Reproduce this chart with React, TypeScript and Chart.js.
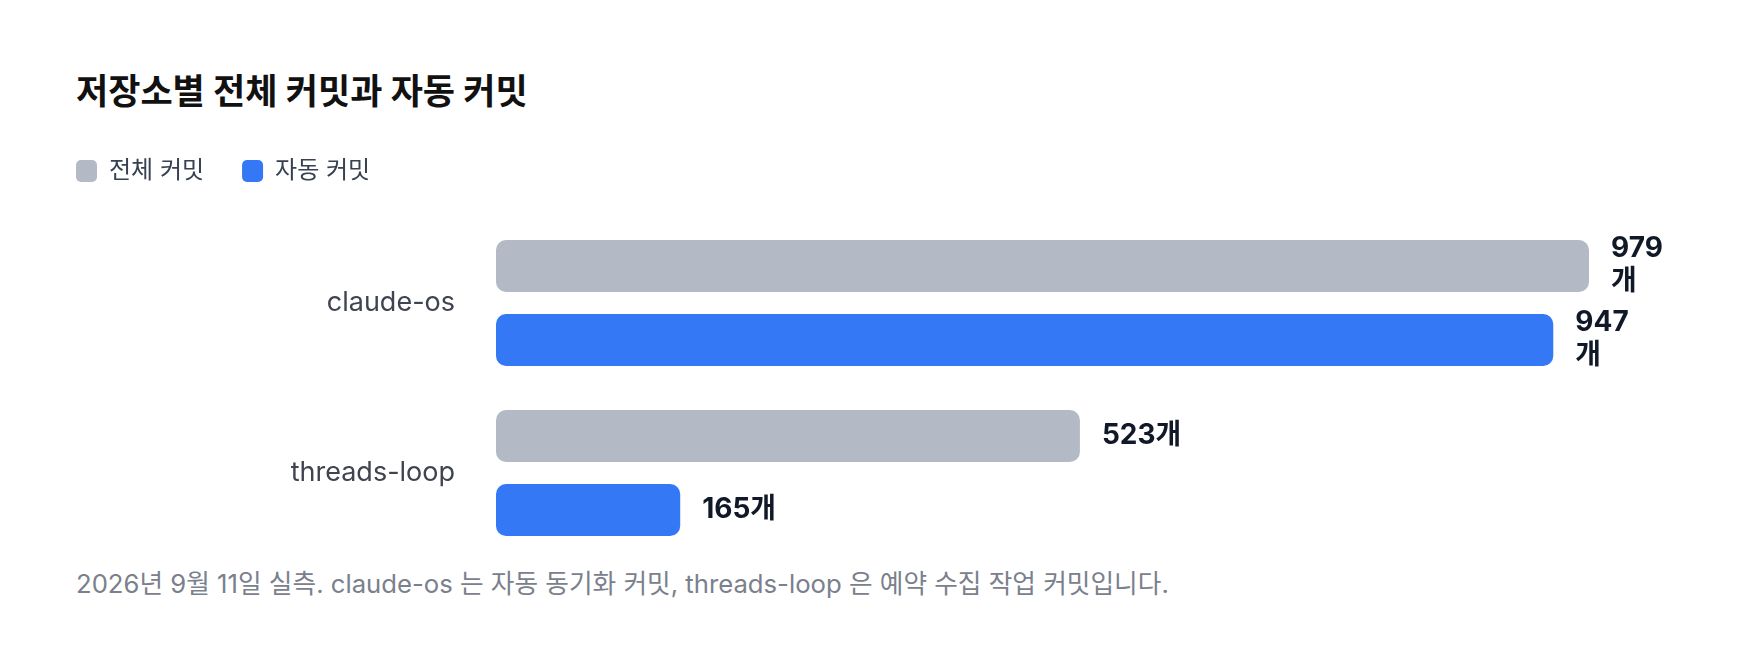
import React, { useEffect, useRef } from 'react';
import { Chart, registerables } from 'chart.js';

Chart.register(...registerables);

const FONT = "Inter, 'Noto Sans CJK KR', sans-serif";

const categories = ['claude-os', 'threads-loop'];
const seriesLabels = ['전체 커밋', '자동 커밋'];
const totalCommits = [979, 523];
const autoCommits = [947, 165];
const unit = '개';

const title = '저장소별 전체 커밋과 자동 커밋';
const footnote =
  '2026년 9월 11일 실측. claude-os 는 자동 동기화 커밋, threads-loop 은 예약 수집 작업 커밋입니다.';

// draws "979개" after each bar, wraps the unit onto a second line when it runs out of room
const valueLabels = {
  id: 'valueLabels',
  afterDatasetsDraw(chart: Chart) {
    const { ctx } = chart;
    const limit = chart.width - 100;
    ctx.save();
    ctx.font = `700 28px ${FONT}`;
    ctx.fillStyle = '#111827';
    ctx.textAlign = 'left';
    ctx.textBaseline = 'middle';
    chart.data.datasets.forEach((ds, di) => {
      const meta = chart.getDatasetMeta(di);
      meta.data.forEach((bar: any, i) => {
        const v = ds.data[i] as number;
        const x = bar.x + 22;
        const text = `${v}${unit}`;
        if (x + ctx.measureText(text).width > limit) {
          ctx.fillText(String(v), x, bar.y - 17);
          ctx.fillText(unit, x, bar.y + 16);
        } else {
          ctx.fillText(text, x, bar.y);
        }
      });
    });
    ctx.restore();
  },
};

const CommitChart: React.FC = () => {
  const chartRef = useRef<HTMLCanvasElement>(null);
  const chartInstance = useRef<Chart | null>(null);

  useEffect(() => {
    if (!chartRef.current) return;
    if (chartInstance.current) chartInstance.current.destroy();

    const ctx = chartRef.current.getContext('2d');
    if (!ctx) return;

    const maxValue = Math.max(...totalCommits, ...autoCommits);

    chartInstance.current = new Chart(ctx, {
      type: 'bar',
      data: {
        labels: categories,
        datasets: [
          {
            label: seriesLabels[0],
            data: totalCommits,
            backgroundColor: '#b3bac5',
            borderWidth: 0,
            borderRadius: 10,
            borderSkipped: false,
            categoryPercentage: 0.87,
            barPercentage: 0.703,
          },
          {
            label: seriesLabels[1],
            data: autoCommits,
            backgroundColor: '#3478f6',
            borderWidth: 0,
            borderRadius: 10,
            borderSkipped: false,
            categoryPercentage: 0.87,
            barPercentage: 0.703,
          },
        ],
      },
      options: {
        indexAxis: 'y',
        animation: false,
        responsive: true,
        maintainAspectRatio: false,
        layout: { padding: { top: 1, left: 30, right: 163, bottom: 0 } },
        plugins: {
          legend: {
            display: true,
            position: 'top',
            align: 'start',
            labels: {
              boxWidth: 21,
              boxHeight: 22,
              useBorderRadius: true,
              borderRadius: 5,
              padding: 38,
              color: '#374151',
              font: { family: FONT, size: 24 },
            },
          },
          tooltip: { enabled: false },
        },
        scales: {
          x: {
            type: 'linear',
            position: 'top',
            min: 0,
            max: maxValue,
            grid: { display: false, drawTicks: false },
            border: { display: false },
            ticks: { display: false },
            afterFit: (axis: any) => {
              axis.height = 25;
            },
          },
          y: {
            grid: { display: false, drawTicks: false },
            border: { display: false },
            ticks: {
              color: '#3f4450',
              padding: 41,
              font: { family: FONT, size: 27 },
            },
            afterFit: (axis: any) => {
              axis.width = 458;
              // the label padding should not eat into the plot height
              axis.paddingTop = 0;
              axis.paddingBottom = 0;
            },
          },
        },
      },
      plugins: [valueLabels],
    });

    return () => {
      if (chartInstance.current) {
        chartInstance.current.destroy();
        chartInstance.current = null;
      }
    };
  }, []);

  return <canvas ref={chartRef} />;
};

const App: React.FC = () => {
  return (
    <div style={{ width: 1744, height: 650, overflow: 'hidden', fontFamily: FONT }}>
      <div
        style={{
          marginTop: 64,
          paddingLeft: 68,
          fontSize: 35,
          lineHeight: '38px',
          fontWeight: 700,
          color: '#111111',
        }}
      >
        {title}
      </div>
      <div style={{ position: 'relative', width: 1744, height: 438, marginTop: 10 }}>
        <CommitChart />
      </div>
      <div
        style={{
          marginTop: 12,
          paddingLeft: 68,
          fontSize: 25.7,
          lineHeight: '28px',
          color: '#7a808c',
        }}
      >
        {footnote}
      </div>
    </div>
  );
};

export default App;
